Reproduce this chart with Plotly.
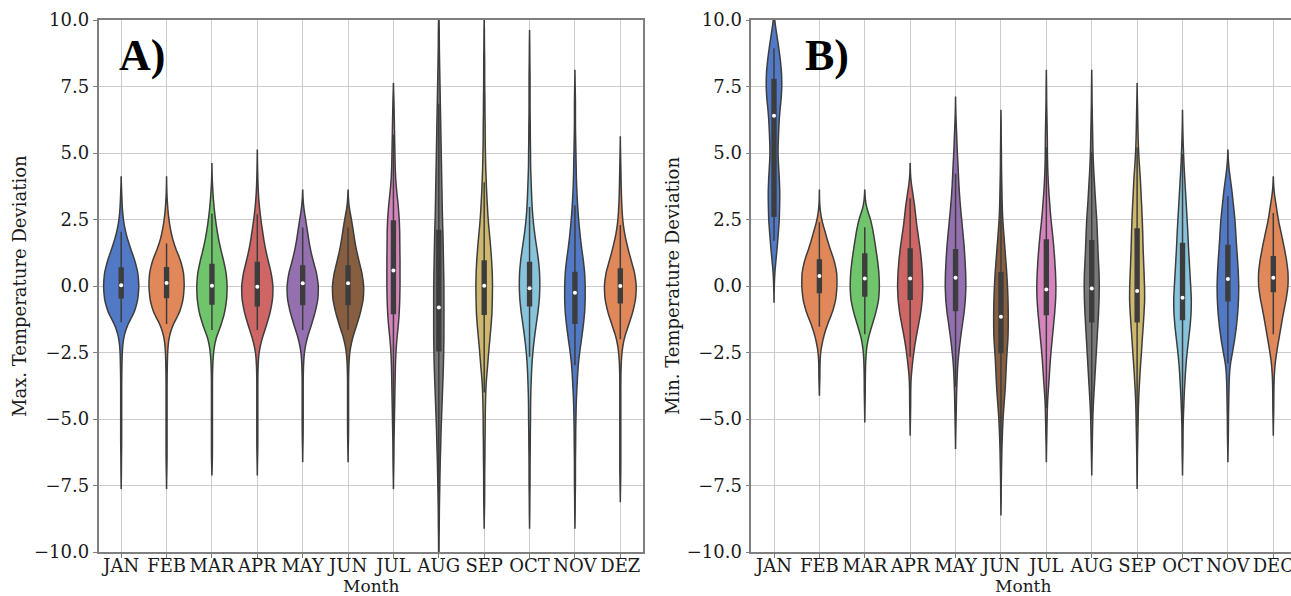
import numpy as np
import plotly.graph_objects as go

# ---------------- data ----------------
months_a = ["JAN", "FEB", "MAR", "APR", "MAY", "JUN", "JUL", "AUG", "SEP", "OCT", "NOV", "DEZ"]
months_b = ["JAN", "FEB", "MAR", "APR", "MAY", "JUN", "JUL", "AUG", "SEP", "OCT", "NOV", "DEC"]

# bin centres (deviation, degC) of the frequency tables below
bins = [-10.0, -9.5, -9.0, -8.5, -8.0, -7.5, -7.0, -6.5, -6.0, -5.5, -5.0, -4.5, -4.0, -3.5,
        -3.0, -2.5, -2.0, -1.5, -1.0, -0.5, 0.0, 0.5, 1.0, 1.5, 2.0, 2.5, 3.0, 3.5, 4.0,
        4.5, 5.0, 5.5, 6.0, 6.5, 7.0, 7.5, 8.0, 8.5, 9.0, 9.5, 10.0]

# A) max. temperature deviation: counts per bin for each month
tmax_jan = [0,0,0,0,0,0,1,1,2,2,2,2,2,2,3,4,8,22,54,68,72,68,54,34,18,8,4,2,0,0,0,0,0,0,0,0,0,0,0,0,0]
tmax_feb = [0,0,0,0,0,0,1,2,2,2,2,2,2,2,3,4,8,22,54,68,72,70,56,32,18,9,4,1,0,0,0,0,0,0,0,0,0,0,0,0,0]
tmax_mar = [0,0,0,0,0,0,0,2,2,2,2,2,2,2,3,6,14,36,52,60,62,58,46,32,22,14,8,4,1,0,0,0,0,0,0,0,0,0,0,0,0]
tmax_apr = [0,0,0,0,0,0,0,1,2,2,2,2,2,2,3,6,18,36,52,62,64,56,42,30,22,14,8,4,2,1,0,0,0,0,0,0,0,0,0,0,0]
tmax_may = [0,0,0,0,0,0,0,0,1,2,2,2,2,2,3,6,16,34,50,62,64,56,40,28,20,12,3,0,0,0,0,0,0,0,0,0,0,0,0,0,0]
tmax_jun = [0,0,0,0,0,0,0,0,1,2,2,2,2,2,3,6,16,34,50,62,64,56,42,30,22,14,3,0,0,0,0,0,0,0,0,0,0,0,0,0,0]
tmax_jul = [0,0,0,0,0,0,1,2,2,3,4,5,6,7,8,10,14,20,24,26,27,27,27,26,26,24,20,14,9,7,6,5,4,3,2,0,0,0,0,0,0]
tmax_aug = [1,1,2,2,3,4,5,6,8,9,11,13,15,17,19,20,21,21,21,21,21,20,19,18,17,15,14,13,12,11,10,9,8,7,6,5,4,3,2,2,1]
tmax_sep = [0,0,0,1,2,2,2,3,3,4,4,5,6,9,14,18,23,28,32,33,34,33,30,26,21,16,13,10,8,6,5,4,4,3,3,2,2,2,1,1,0]
tmax_oct = [0,0,0,1,1,2,2,2,3,3,4,4,5,7,9,13,19,26,34,40,42,41,36,28,20,14,10,8,6,4,4,3,3,2,2,2,2,1,1,0,0]
tmax_nov = [0,0,0,1,1,2,2,2,3,3,4,5,7,10,13,19,27,34,40,42,42,40,34,26,20,15,11,8,6,5,4,3,2,2,2,1,0,0,0,0,0]
tmax_dez = [0,0,0,0,0,1,2,2,2,2,2,2,2,2,3,6,14,32,50,62,65,58,42,28,16,9,6,4,3,2,1,0,0,0,0,0,0,0,0,0,0]

# B) min. temperature deviation: counts per bin for each month
tmin_jan = [0,0,0,0,0,0,0,0,0,0,0,0,0,0,0,0,0,0,0,0,1,3,8,13,17,21,22,23,21,18,15,17,19,22,28,31,30,25,18,10,2]
tmin_feb = [0,0,0,0,0,0,0,0,0,0,0,0,0,2,2,4,14,29,52,66,70,70,58,38,24,8,1,0,0,0,0,0,0,0,0,0,0,0,0,0,0]
tmin_mar = [0,0,0,0,0,0,0,0,0,0,0,1,2,2,3,5,12,28,44,56,58,56,50,42,34,24,4,0,0,0,0,0,0,0,0,0,0,0,0,0,0]
tmin_apr = [0,0,0,0,0,0,0,0,0,0,1,2,2,3,8,14,22,32,42,48,50,48,44,38,30,23,18,10,2,0,0,0,0,0,0,0,0,0,0,0,0]
tmin_may = [0,0,0,0,0,0,0,0,0,1,2,3,4,6,8,13,19,26,34,39,41,40,37,34,29,24,19,15,12,10,7,5,3,1,0,0,0,0,0,0,0]
tmin_jun = [0,0,0,0,1,1,2,3,4,6,8,12,16,19,21,24,28,29,29,28,26,23,19,15,11,7,5,4,3,2,2,1,1,0,0,0,0,0,0,0,0]
tmin_jul = [0,0,0,0,0,0,0,0,1,2,3,4,7,11,14,18,23,28,33,37,38,36,33,29,24,18,14,10,7,5,4,4,3,2,1,1,0,0,0,0,0]
tmin_aug = [0,0,0,0,0,0,0,1,2,3,4,6,9,12,15,18,21,24,27,29,30,29,26,24,22,20,16,13,10,7,5,4,3,2,1,1,0,0,0,0,0]
tmin_sep = [0,0,0,0,0,0,1,1,2,3,4,5,7,10,13,17,20,24,27,30,29,27,25,23,22,20,18,15,13,9,6,4,3,2,1,0,0,0,0,0,0]
tmin_oct = [0,0,0,0,0,0,0,1,2,2,3,5,7,10,13,18,24,30,34,35,32,29,26,23,21,18,15,12,9,6,4,2,1,0,0,0,0,0,0,0,0]
tmin_nov = [0,0,0,0,0,0,0,0,1,2,2,3,4,5,8,18,27,34,39,42,43,41,38,34,31,28,22,17,10,3,0,0,0,0,0,0,0,0,0,0,0]
tmin_dec = [0,0,0,0,0,0,0,0,0,0,1,2,2,3,6,13,22,31,40,51,59,59,52,42,31,19,12,3,0,0,0,0,0,0,0,0,0,0,0,0,0]

# inner box statistics (quartiles, median, whisker ends)
tmax_q1 = [-0.44, -0.43, -0.68, -0.74, -0.70, -0.70, -1.03, -2.43, -1.06, -0.74, -1.40, -0.63]
tmax_med = [0.03, 0.11, 0.01, -0.03, 0.10, 0.10, 0.58, -0.81, 0.01, -0.08, -0.25, 0.00]
tmax_q3 = [0.68, 0.69, 0.81, 0.88, 0.75, 0.75, 2.44, 2.09, 0.94, 0.88, 0.51, 0.64]
tmax_lo = [-1.36, -1.43, -1.65, -1.65, -1.65, -1.65, -5.60, -7.80, -4.00, -2.66, -2.98, -2.00]
tmax_hi = [2.04, 1.60, 2.73, 2.70, 2.20, 2.20, 5.70, 6.85, 3.90, 2.97, 3.04, 2.29]

tmin_q1 = [2.62, -0.24, -0.38, -0.50, -0.92, -2.50, -1.07, -1.34, -1.34, -1.26, -0.55, -0.21]
tmin_med = [6.40, 0.38, 0.28, 0.28, 0.31, -1.16, -0.13, -0.09, -0.19, -0.44, 0.26, 0.31]
tmin_q3 = [7.76, 0.98, 1.20, 1.39, 1.36, 0.50, 1.73, 1.70, 2.14, 1.60, 1.52, 1.10]
tmin_lo = [1.70, -1.53, -1.81, -2.66, -3.79, -6.29, -4.60, -5.04, -5.29, -5.10, -2.91, -1.81]
tmin_hi = [8.94, 2.40, 2.21, 3.30, 4.22, 4.47, 5.22, 5.03, 5.22, 4.97, 3.37, 2.74]

y_ticks = [-10.0, -7.5, -5.0, -2.5, 0.0, 2.5, 5.0, 7.5, 10.0]

# ---------------- style ----------------
palette = ["#5179C6", "#E0885A", "#70C46B", "#CF6666", "#9470B0",
           "#875F40", "#D684BE", "#797979", "#CEB86E", "#88C3DC"]
colors = [palette[i % len(palette)] for i in range(12)]
INNER = "#3d3d3d"
FONT = "DejaVu Serif"
TXT = "#1a1a1a"
W, H = 1291, 596

fig = go.Figure()


def add_panel(months, tables, q1, med, q3, lo, hi, xa, ya):
    peak = max(max(t) for t in tables)
    for i, (m, t) in enumerate(zip(months, tables)):
        samples = np.repeat(np.array(bins), np.array(t))
        fig.add_trace(go.Violin(
            x=[m] * len(samples), y=samples, xaxis=xa, yaxis=ya,
            width=0.775 * max(t) / peak, bandwidth=0.3, spanmode="soft",
            fillcolor=colors[i], line=dict(color=INNER, width=1.5), opacity=1,
            points=False, box_visible=False, meanline_visible=False,
            hoverinfo="skip", showlegend=False))
    fig.add_trace(go.Box(
        x=months, q1=q1, median=med, q3=q3, lowerfence=lo, upperfence=hi,
        xaxis=xa, yaxis=ya, width=0.085, whiskerwidth=0, boxpoints=False,
        fillcolor=INNER, line=dict(color=INNER, width=1.5),
        hoverinfo="skip", showlegend=False))
    fig.add_trace(go.Scatter(
        x=months, y=med, xaxis=xa, yaxis=ya, mode="markers",
        marker=dict(color="white", size=4, line=dict(width=0)),
        hoverinfo="skip", showlegend=False))


add_panel(months_a,
          [tmax_jan, tmax_feb, tmax_mar, tmax_apr, tmax_may, tmax_jun,
           tmax_jul, tmax_aug, tmax_sep, tmax_oct, tmax_nov, tmax_dez],
          tmax_q1, tmax_med, tmax_q3, tmax_lo, tmax_hi, "x", "y")
add_panel(months_b,
          [tmin_jan, tmin_feb, tmin_mar, tmin_apr, tmin_may, tmin_jun,
           tmin_jul, tmin_aug, tmin_sep, tmin_oct, tmin_nov, tmin_dec],
          tmin_q1, tmin_med, tmin_q3, tmin_lo, tmin_hi, "x2", "y2")

tick_text = [("\u2212" if v < 0 else "") + f"{abs(v):.1f}" for v in y_ticks]

ax_common = dict(showgrid=True, gridcolor="#cccccc", gridwidth=1, showline=True,
                 linecolor="#7f7f7f", linewidth=1.5, ticks="outside", ticklen=4,
                 tickwidth=1.2, tickcolor="#7f7f7f", zeroline=False, automargin=False,
                 tickfont=dict(family=FONT, size=18, color=TXT))

ydom = [1 - 552 / H, 1 - 20 / H]
fig.update_layout(
    width=W, height=H, margin=dict(l=0, r=0, t=0, b=0, pad=0, autoexpand=False),
    paper_bgcolor="white", plot_bgcolor="white", showlegend=False,
    violinmode="overlay", boxmode="overlay",
    font=dict(family=FONT, size=18, color=TXT),
    xaxis=dict(ax_common, type="category", categoryorder="array", categoryarray=months_a,
               range=[-0.5, 11.5], domain=[98.5 / W, 643.0 / W], anchor="y",
               mirror=True, tickangle=0, ticklabelstandoff=-7),
    yaxis=dict(ax_common, range=[-10, 10], tickvals=y_ticks, ticktext=tick_text,
               domain=ydom, anchor="x", mirror=True),
    xaxis2=dict(ax_common, type="category", categoryorder="array", categoryarray=months_b,
                range=[-0.5, 11.39], domain=[751.3 / W, 1.0], anchor="y2",
                mirror=True, tickangle=0, ticklabelstandoff=-7),
    yaxis2=dict(ax_common, range=[-10, 10], tickvals=y_ticks, ticktext=tick_text,
                domain=ydom, anchor="x2", mirror=False),
)

ann = [
    dict(text="<b>A)</b>", x=117 / W, y=1 - 56 / H, xanchor="left", yanchor="middle",
         font=dict(family="Liberation Serif", size=44, color="black")),
    dict(text="<b>B)</b>", x=803 / W, y=1 - 56 / H, xanchor="left", yanchor="middle",
         font=dict(family="Liberation Serif", size=44, color="black")),
    dict(text="Max. Temperature Deviation", x=20 / W, y=1 - 286 / H, textangle=-90,
         xanchor="center", yanchor="middle", font=dict(family=FONT, size=18, color=TXT)),
    dict(text="Min. Temperature Deviation", x=673 / W, y=1 - 286 / H, textangle=-90,
         xanchor="center", yanchor="middle", font=dict(family=FONT, size=18, color=TXT)),
    dict(text="Month", x=371 / W, y=1 - 586 / H, xanchor="center", yanchor="middle",
         font=dict(family=FONT, size=17, color=TXT)),
    dict(text="Month", x=1023 / W, y=1 - 586 / H, xanchor="center", yanchor="middle",
         font=dict(family=FONT, size=17, color=TXT)),
]
for a in ann:
    fig.add_annotation(a, xref="paper", yref="paper", showarrow=False)

fig.write_html("out.html")
